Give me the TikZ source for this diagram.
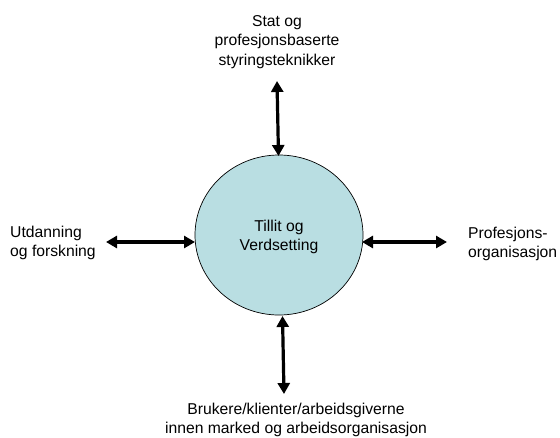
\documentclass[tikz,border=0pt]{standalone}
\usepackage{fontspec}
\setmainfont{Liberation Sans}
\usetikzlibrary{arrows.meta,shapes.geometric}
\definecolor{circfill}{RGB}{185,222,226}
\begin{document}
\begin{tikzpicture}[x=1pt,y=-1pt,
  every node/.style={font=\fontsize{15.7}{19.5}\selectfont, inner sep=0pt},
  hub/.style={ellipse, draw=black, line width=0.7pt, fill=circfill, minimum width=168pt, minimum height=160pt},
  lbl/.style={align=center},
  link/.style={line width=3.2pt, {Triangle[length=11pt,width=12pt]}-{Triangle[length=11pt,width=12pt]}}]
\useasboundingbox (0,0) rectangle (560,437);
\node[hub] (c) at (279,235) {};
\node[lbl] (ct) at (279,237) {Tillit og\\Verdsetting};
\node[lbl] (top) at (277,42) {Stat og\\profesjonsbaserte\\styringsteknikker};
\node[align=left, anchor=west] (left) at (10,243) {Utdanning\\og forskning};
\node[align=left, anchor=west] (right) at (468,244) {Profesjons-\\organisasjon};
\node[lbl] (bot) at (296,420) {Brukere/klienter/arbeidsgiverne\\innen marked og arbeidsorganisasjon};
\coordinate (tA) at (277,81);
\coordinate (tB) at (278.5,156);
\coordinate (lA) at (106,242);
\coordinate (lB) at (195,242);
\coordinate (rA) at (362,242);
\coordinate (rB) at (447,242);
\coordinate (bA) at (282.5,316);
\coordinate (bB) at (284,394);
\draw[link] (tA) -- (tB);
\draw[link] (lA) -- (lB);
\draw[link] (rA) -- (rB);
\draw[link] (bA) -- (bB);
\end{tikzpicture}
\end{document}
